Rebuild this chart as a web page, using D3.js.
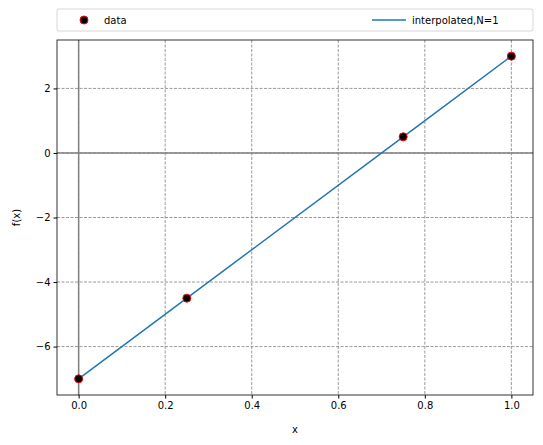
<!DOCTYPE html><html><head><meta charset="utf-8"><script src="https://cdn.jsdelivr.net/npm/d3@7"></script>
<style>body{margin:0;background:#fff}text{font-family:"DejaVu Sans",sans-serif}</style></head><body>
<svg id="c" width="543" height="445"></svg>
<script>
const dataX=[0,0.25,0.75,1];
const dataY=[-7,-4.5,0.5,3];
const lineX=[0,0.25,0.75,1];
const lineY=[-7,-4.5,0.5,3];
const xTicks=[0,0.2,0.4,0.6,0.8,1.0];
const yTicks=[-6,-4,-2,0,2];
const L=57,R=533,T=40,B=395;
const svg=d3.select("#c");
const x=d3.scaleLinear().domain([-0.05,1.05]).range([L,R]);
const y=d3.scaleLinear().domain([-7.5,3.5]).range([B,T]);
const g=svg.append("g");
xTicks.forEach(t=>g.append("line").attr("x1",x(t)).attr("x2",x(t)).attr("y1",T).attr("y2",B).attr("stroke","#808080").attr("stroke-width",0.8).attr("stroke-dasharray","3,1.5"));
yTicks.forEach(t=>g.append("line").attr("y1",y(t)).attr("y2",y(t)).attr("x1",L).attr("x2",R).attr("stroke","#808080").attr("stroke-width",0.8).attr("stroke-dasharray","3,1.5"));
g.append("line").attr("x1",L).attr("x2",R).attr("y1",y(0)).attr("y2",y(0)).attr("stroke","#808080").attr("stroke-width",1.5);
g.append("line").attr("x1",x(0)).attr("x2",x(0)).attr("y1",T).attr("y2",B).attr("stroke","#808080").attr("stroke-width",1.5);
svg.append("path").datum(lineX.map((v,i)=>[v,lineY[i]])).attr("d",d3.line().x(d=>x(d[0])).y(d=>y(d[1]))).attr("fill","none").attr("stroke","#1f77b4").attr("stroke-width",1.5);
svg.selectAll("circle.p").data(dataX.map((v,i)=>[v,dataY[i]])).enter().append("circle").attr("cx",d=>x(d[0])).attr("cy",d=>y(d[1])).attr("r",4).attr("fill","#000").attr("stroke","red").attr("stroke-width",1);
svg.append("rect").attr("x",L).attr("y",T).attr("width",R-L).attr("height",B-T).attr("fill","none").attr("stroke","#000").attr("stroke-width",0.8);
const xa=svg.append("g").attr("transform",`translate(0,${B})`).call(d3.axisBottom(x).tickValues(xTicks).tickFormat(d3.format(".1f")).tickSize(3.5).tickSizeOuter(0));
const ya=svg.append("g").attr("transform",`translate(${L},0)`).call(d3.axisLeft(y).tickValues(yTicks).tickFormat(d=>d<0?"−"+Math.abs(d):d).tickSize(3.5).tickSizeOuter(0));
[xa,ya].forEach(a=>{a.select(".domain").remove();a.selectAll("text").attr("font-size",10).attr("fill","#000").style("font-family","DejaVu Sans");});
svg.append("text").attr("x",(L+R)/2).attr("y",433).attr("text-anchor","middle").attr("font-size",10).text("x");
svg.append("text").attr("transform",`translate(20,${(T+B)/2}) rotate(-90)`).attr("text-anchor","middle").attr("font-size",10).text("f(x)");
const lg=svg.append("g");
lg.append("rect").attr("x",L).attr("y",9).attr("width",R-L).attr("height",22).attr("rx",2).attr("fill","#fff").attr("stroke","#ccc").attr("stroke-width",0.8);
lg.append("circle").attr("cx",84).attr("cy",20).attr("r",4).attr("fill","#000").attr("stroke","red");
lg.append("text").attr("x",104).attr("y",24).attr("font-size",10).text("data");
lg.append("line").attr("x1",372).attr("x2",406).attr("y1",20).attr("y2",20).attr("stroke","#1f77b4").attr("stroke-width",1.5);
lg.append("text").attr("x",412).attr("y",24).attr("font-size",10).text("interpolated,N=1");
</script></body></html>
